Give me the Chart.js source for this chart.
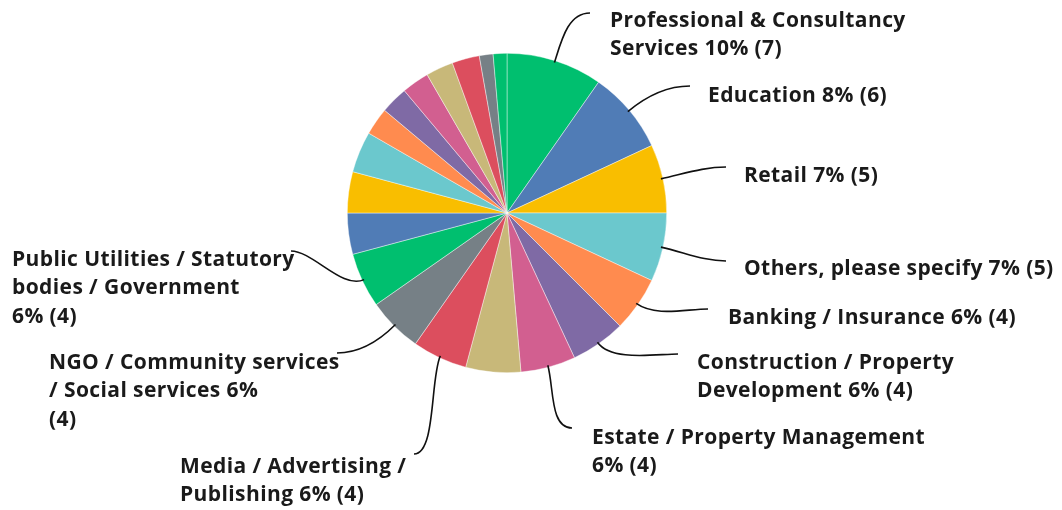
<!DOCTYPE html>
<html lang="en">
<head>
    <meta charset="UTF-8">
    <title>Industry breakdown</title>
    <script src="https://cdn.jsdelivr.net/npm/chart.js"></script>
    <style>
        html, body { margin: 0; padding: 0; background: #fff; }
        #industryChart { display: block; }
    </style>
</head>
<body>
    <canvas id="industryChart" width="1062" height="510"></canvas>

    <script>
        // Answer choices, clockwise from 12 o'clock
        const industries = [
            "Professional & Consultancy Services",
            "Education",
            "Retail",
            "Others, please specify",
            "Banking / Insurance",
            "Construction / Property Development",
            "Estate / Property Management",
            "Manufacturing",
            "Media / Advertising / Publishing",
            "NGO / Community services / Social services",
            "Public Utilities / Statutory bodies / Government",
            "IT / Technology",
            "Healthcare",
            "Hospitality / F&B",
            "Logistics / Transport",
            "Legal",
            "Engineering",
            "Arts / Design",
            "Tourism",
            "Research",
            "Telecommunications"
        ];

        // Response counts
        const responses = [7, 6, 5, 5, 4, 4, 4, 4, 4, 4, 4, 3, 3, 3, 2, 2, 2, 2, 2, 1, 1];

        const palette = ['#00BF6F', '#507CB6', '#F9BE00', '#6BC8CD', '#FF8B4F',
                         '#7F6AA5', '#D25F90', '#C8B879', '#DC4E5E', '#768086'];

        // Where each outside label sits: text left x, first line middle y,
        // leader line end point, and how many words go on each line.
        // null = no label shown for that slice
        const labelLayout = [
            { x: 610, y: 21,  ex: 590, ey: 13,  words: [3, 3] },
            { x: 708, y: 96,  ex: 690, ey: 86,  words: [4] },
            { x: 744, y: 176, ex: 726, ey: 167, words: [3] },
            { x: 744, y: 269, ex: 726, ey: 261, words: [5] },
            { x: 728, y: 318, ex: 708, ey: 309, words: [5] },
            { x: 697, y: 363, ex: 678, ey: 354, words: [3, 3] },
            { x: 592, y: 438, ex: 572, ey: 428, words: [4, 2] },
            null,
            { x: 180, y: 467, ex: 414, ey: 454, words: [4, 3] },
            { x: 49,  y: 363, ex: 337, ey: 353, words: [4, 4, 1] },
            { x: 12,  y: 260, ex: 291, ey: 251, words: [4, 3, 2] }
        ];

        const total = responses.reduce((a, b) => a + b, 0);

        const outsideLabels = {
            id: 'outsideLabels',
            afterDraw(chart) {
                const ctx = chart.ctx;
                const meta = chart.getDatasetMeta(0);
                ctx.save();
                ctx.font = '700 21px "Open Sans"';
                ctx.letterSpacing = '0.4px';
                ctx.fillStyle = '#1a1a1a';
                ctx.textBaseline = 'middle';
                ctx.textAlign = 'left';
                ctx.strokeStyle = '#111';
                ctx.lineWidth = 1.6;

                meta.data.forEach((arc, i) => {
                    const lay = labelLayout[i];
                    if (!lay) return;
                    const p = arc.getProps(['x', 'y', 'startAngle', 'endAngle', 'outerRadius'], true);
                    const mid = (p.startAngle + p.endAngle) / 2;
                    const cx = Math.cos(mid), cy = Math.sin(mid);
                    const x0 = p.x + cx * (p.outerRadius - 2);
                    const y0 = p.y + cy * (p.outerRadius - 2);
                    const x1 = p.x + cx * (p.outerRadius + 22);
                    const y1 = p.y + cy * (p.outerRadius + 22);
                    const side = lay.ex > p.x ? -1 : 1;

                    // leader line
                    ctx.beginPath();
                    ctx.moveTo(x0, y0);
                    ctx.bezierCurveTo(x1, y1, lay.ex + side * 22, lay.ey, lay.ex, lay.ey);
                    ctx.stroke();

                    // label text
                    const pct = Math.round(responses[i] / total * 100);
                    const tokens = `${industries[i]} ${pct}% (${responses[i]})`.split(' ');
                    let k = 0;
                    lay.words.forEach((n, line) => {
                        const txt = tokens.slice(k, k + n).join(' ');
                        k += n;
                        ctx.fillText(txt, lay.x, lay.y + line * 28.5);
                    });
                });
                ctx.restore();
            }
        };

        const ctx = document.getElementById('industryChart').getContext('2d');
        const industryChart = new Chart(ctx, {
            type: 'pie',
            data: {
                labels: industries,
                datasets: [{
                    data: responses,
                    backgroundColor: responses.map((v, i) => palette[i % palette.length]),
                    borderColor: 'rgba(255,255,255,0.7)',
                    borderWidth: 0.6
                }]
            },
            options: {
                responsive: false,
                animation: false,
                devicePixelRatio: 1,
                layout: { padding: { top: 53, bottom: 137, left: 300, right: 348 } },
                plugins: {
                    legend: { display: false },
                    tooltip: { enabled: false }
                }
            },
            plugins: [outsideLabels]
        });
    </script>
</body>
</html>
